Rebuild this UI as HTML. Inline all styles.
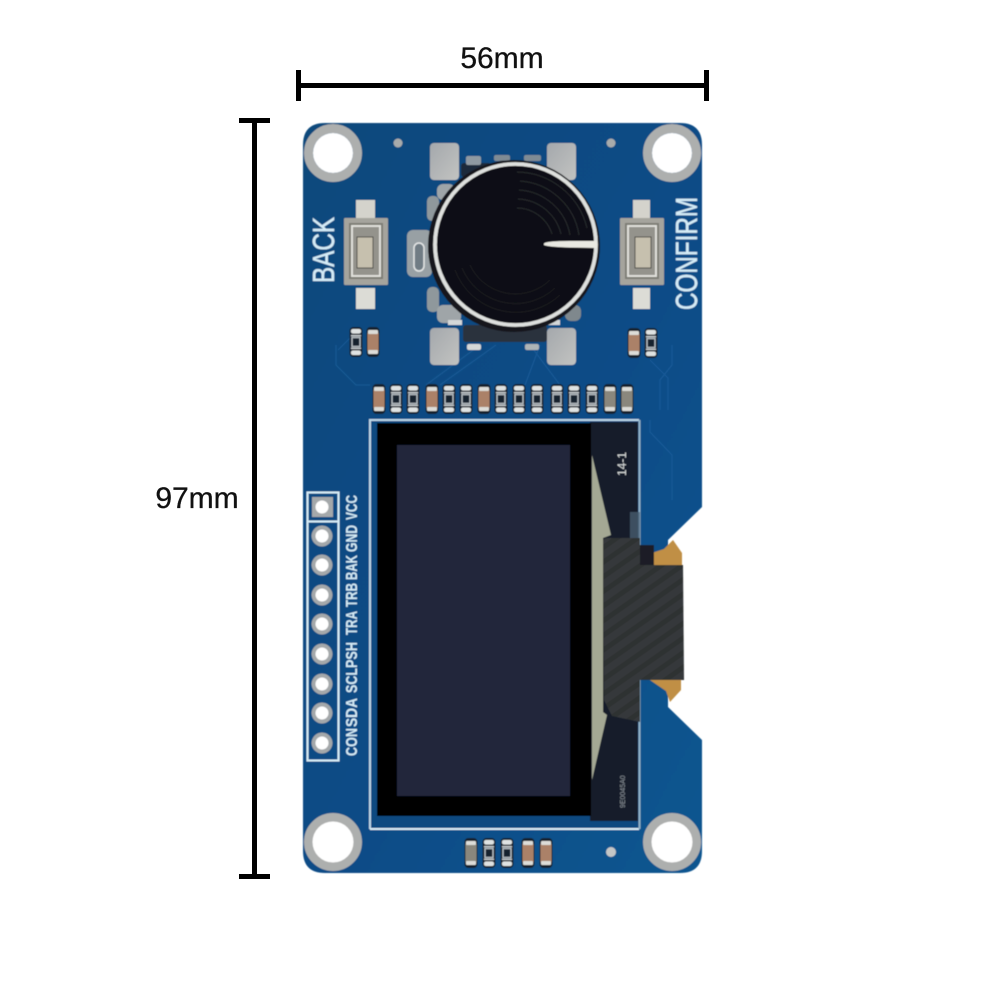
<!DOCTYPE html>
<html><head><meta charset="utf-8"><title>OLED knob module dimensions</title>
<style>html,body{margin:0;padding:0;background:#fff}svg{display:block}text{font-family:"Liberation Sans",sans-serif}</style></head>
<body>
<svg xmlns="http://www.w3.org/2000/svg" width="996" height="996" viewBox="0 0 996 996">
<defs>
<linearGradient id="pcb" x1="0" y1="0" x2="1" y2="1"><stop offset="0" stop-color="#104a7c"/><stop offset=".5" stop-color="#0d4b86"/><stop offset="1" stop-color="#105690"/></linearGradient>
<linearGradient id="pad" x1="0" y1="0" x2="1" y2="1"><stop offset="0" stop-color="#a4a8ac"/><stop offset="1" stop-color="#c2c3c1"/></linearGradient>
<pattern id="carbon" width="12" height="12" patternUnits="userSpaceOnUse" patternTransform="rotate(-35)"><rect width="12" height="12" fill="#36383b"/><rect width="12" height="5" fill="#2e3033"/></pattern>
<filter id="b" x="-5%" y="-5%" width="110%" height="110%"><feGaussianBlur stdDeviation=".45"/></filter>
<g id="res"><rect x="-6.5" y="-15" width="13" height="30" rx="4" fill="#14222f"/><rect x="-5" y="-13" width="10" height="4.5" rx="2" fill="#dfe2e2"/><rect x="-5" y="8.5" width="10" height="4.5" rx="2" fill="#dfe2e2"/><rect x="-4" y="-4.5" width="8" height="9" fill="none" stroke="#b9c0c4" stroke-width="1.4"/><rect x="-5" y="-7" width="10" height="1.4" fill="#c9ced0"/><rect x="-5" y="5.6" width="10" height="1.4" fill="#c9ced0"/></g>
<g id="cap"><rect x="-6.5" y="-15" width="13" height="30" rx="4" fill="#14222f"/><rect x="-5.5" y="-9" width="11" height="18" fill="#ab8168"/><rect x="-5" y="-12" width="10" height="4" rx="1" fill="#dcdcd8"/><rect x="-5" y="8" width="10" height="4" rx="1" fill="#dcdcd8"/></g>
<g id="capg"><rect x="-6.5" y="-15" width="13" height="30" rx="4" fill="#14222f"/><rect x="-5.5" y="-9" width="11" height="18" fill="#8a877d"/><rect x="-5" y="-12" width="10" height="4" rx="1" fill="#dcdcd8"/><rect x="-5" y="8" width="10" height="4" rx="1" fill="#dcdcd8"/></g>
<g id="pin"><circle r="10.5" fill="#a4a8aa"/><circle r="6.5" fill="#fff"/></g>
</defs>

<!-- dimension lines -->
<rect x="296" y="70" width="5" height="31" fill="#000"/>
<rect x="704" y="70" width="5" height="31" fill="#000"/>
<rect x="298" y="83" width="408" height="5" fill="#000"/>
<rect x="239" y="118" width="31" height="5" fill="#000"/>
<rect x="239" y="874" width="31" height="5" fill="#000"/>
<rect x="252" y="120" width="5" height="756" fill="#000"/>
<text x="502" y="68" font-size="30" text-anchor="middle" fill="#111" stroke="#111" stroke-width=".3">56mm</text>
<text x="197" y="508" font-size="30" text-anchor="middle" fill="#111" stroke="#111" stroke-width=".3">97mm</text>

<g filter="url(#b)">
<!-- PCB -->
<path d="M325 123H680Q702 123 702 145V507L668 540V707L702 740V851Q702 873 680 873H325Q303 873 303 851V145Q303 123 325 123Z" fill="url(#pcb)"/>

<!-- traces -->
<g fill="none" stroke="#1c5f9c" stroke-width="1.2" opacity=".7">
<path d="M336 345V365L356 385H370"/><path d="M338 350L350 338"/>
<path d="M672 345V365L660 380V410"/><path d="M650 420V432L672 455V500"/>
<path d="M426 385L480 345"/><path d="M440 385L496 345"/>
<path d="M525 385L540 345"/><path d="M560 385L530 345"/>
<path d="M650 360L668 378V410"/>
</g>

<!-- mounting holes -->
<g fill="none" stroke="#adafae" stroke-width="9">
<circle cx="333" cy="153" r="24.5"/><circle cx="672" cy="153" r="24.5"/>
<circle cx="333" cy="842" r="24.5"/><circle cx="672" cy="842" r="24.5"/>
</g>
<g fill="#fff">
<circle cx="333" cy="153" r="20"/><circle cx="672" cy="153" r="20"/>
<circle cx="333" cy="842" r="20.5"/><circle cx="672" cy="842" r="20.5"/>
</g>
<circle cx="398" cy="143" r="4.5" fill="#a8abab"/><circle cx="611" cy="143" r="4.5" fill="#a8abab"/><circle cx="611" cy="852" r="5" fill="#c4c6c6"/>

<!-- encoder pads -->
<g fill="url(#pad)">
<rect x="430" y="143" width="29" height="37" rx="4"/>
<rect x="547" y="143" width="29" height="37" rx="4"/>
<rect x="430" y="328" width="29" height="37" rx="4"/>
<rect x="547" y="328" width="29" height="37" rx="4"/>
</g>
<rect x="407" y="230" width="25" height="47" rx="6" fill="#98a0a4"/>
<rect x="414" y="243" width="10" height="28" rx="5" fill="#6f7c84" stroke="#e4e6e6" stroke-width="1.5"/>
<rect x="427" y="196" width="12" height="25" rx="5" fill="#8f989c"/>
<rect x="437" y="184" width="18" height="16" rx="6" fill="#9fa5a8"/>
<rect x="427" y="287" width="12" height="25" rx="5" fill="#8f989c"/>
<rect x="437" y="305" width="24" height="18" rx="6" fill="#9fa5a8"/>
<rect x="565" y="305" width="16" height="16" rx="6" fill="#7f888d"/>
<rect x="463" y="325" width="84" height="17" rx="3" fill="#29323d"/>
<rect x="467" y="344" width="14" height="6" rx="2" fill="#d5d8d8"/><rect x="525" y="344" width="14" height="6" rx="2" fill="#aeb4b6"/>
<rect x="461" y="163" width="30" height="14" rx="3" fill="#1e2b3a"/>
<rect x="466" y="156" width="15" height="9" rx="2" fill="#8f9aa2"/><rect x="494" y="155" width="16" height="6" rx="2" fill="#7f8b94"/><rect x="524" y="155" width="17" height="6" rx="2" fill="#7f8b94"/>
<rect x="448" y="320" width="14" height="5" fill="#d5d8d8"/><rect x="548" y="320" width="12" height="5" fill="#d5d8d8"/>

<!-- knob -->
<circle cx="514" cy="246" r="86" fill="#15181d"/>
<circle cx="515.5" cy="244.5" r="79" fill="#0f1012"/>
<g fill="none" stroke="#3e4144" stroke-width="1" opacity=".55">
<path d="M520 181A64 64 0 0 1 579 235"/>
<path d="M519 190A55 55 0 0 1 570 235"/>
<path d="M518 199A46 46 0 0 1 561 234"/>
<path d="M517 208A37 37 0 0 1 552 234"/>
<path d="M517 172A73 73 0 0 1 587 228"/>
</g>
<g fill="none" stroke="#212326" stroke-width="1" opacity=".7">
<path d="M455 270A65 65 0 0 0 560 295"/><path d="M462 268A58 58 0 0 0 555 288"/><path d="M470 265A50 50 0 0 0 550 280"/>
</g>
<circle cx="515.5" cy="244.5" r="80.5" fill="none" stroke="#dee0de" stroke-width="3.8"/>
<path d="M544 243.5Q546 241 570 241L597 241V248L570 247.5Q548 247 544 245Z" fill="#e9e9e2"/>

<!-- buttons -->
<g>
<rect x="356" y="200" width="19" height="18" fill="#d4d3cc"/>
<rect x="356" y="288" width="19" height="21" fill="#dcdcd6"/>
<rect x="344" y="218" width="44" height="67" rx="1" fill="#a5a49d"/>
<rect x="349" y="223" width="34" height="56" fill="#7d7c75"/>
<rect x="352" y="226" width="28" height="50" fill="#94938c" stroke="#e0e0da" stroke-width="2"/>
<rect x="357" y="237" width="16" height="31" fill="#c6c0ae" stroke="#4a4a45" stroke-width="1"/>
</g>
<g>
<rect x="633" y="200" width="17" height="18" fill="#d4d3cc"/>
<rect x="633" y="288" width="17" height="21" fill="#dcdcd6"/>
<rect x="620" y="218" width="44" height="67" rx="1" fill="#a5a49d"/>
<rect x="625" y="223" width="34" height="56" fill="#7d7c75"/>
<rect x="628" y="226" width="28" height="50" fill="#94938c" stroke="#e0e0da" stroke-width="2"/>
<rect x="635" y="237" width="16" height="31" fill="#c6c0ae" stroke="#4a4a45" stroke-width="1"/>
</g>
<text transform="translate(334 283) rotate(-90)" font-size="31" fill="#d5ecf7" stroke="#d5ecf7" stroke-width=".4" textLength="66" lengthAdjust="spacingAndGlyphs">BACK</text>
<text transform="translate(697 310) rotate(-90)" font-size="31" fill="#d5ecf7" stroke="#d5ecf7" stroke-width=".4" textLength="113" lengthAdjust="spacingAndGlyphs">CONFIRM</text>

<!-- small parts near buttons -->
<use href="#res" x="356" y="342"/><use href="#cap" x="373" y="342"/>
<use href="#cap" x="634" y="343"/><use href="#res" x="651" y="343"/>

<!-- resistor row -->
<use href="#cap" x="379" y="399"/><use href="#res" x="396" y="399"/><use href="#res" x="413" y="399"/>
<use href="#cap" x="432" y="399"/><use href="#res" x="449" y="399"/><use href="#res" x="466" y="399"/>
<use href="#cap" x="484" y="399"/><use href="#res" x="501" y="399"/><use href="#res" x="519" y="399"/>
<use href="#res" x="537" y="399"/><use href="#res" x="557" y="399"/><use href="#res" x="574" y="399"/>
<use href="#res" x="592" y="399"/><use href="#capg" x="610" y="399"/><use href="#capg" x="627" y="399"/>

<!-- display -->
<rect x="370" y="420" width="270" height="409" fill="#0e4a80"/>
<path d="M370 829V420H639" fill="none" stroke="#bcd6e6" stroke-width="2"/>
<path d="M370 829H639" fill="none" stroke="#d8ecf6" stroke-width="2"/>
<path d="M639.5 420V829" fill="none" stroke="#8fb0c6" stroke-width="2"/>
<rect x="590" y="422" width="48" height="399" fill="#171e2b"/>
<rect x="377" y="423" width="214" height="393" fill="#000"/>
<rect x="397" y="445" width="173" height="351" fill="#21263b"/>
<path d="M592 455L611 535L603 538V712L607 715L592 780Z" fill="#a4a894"/>
<text transform="translate(626 476) rotate(-90)" font-size="12" fill="#d8dcdc">14-1</text>
<text transform="translate(625 808) rotate(-90)" font-size="7" fill="#8b929a">9E0045A0</text>

<!-- flex connector -->
<path d="M652 553L664 549L673 540L682 553V566H650Z" fill="#c08f44"/>
<path d="M650 680H681V690L670 702L666 691Z" fill="#c08f44"/>
<rect x="630" y="512" width="10" height="40" fill="#4c6173" opacity=".75"/>
<rect x="632" y="545" width="22" height="22" fill="#1a1f25"/>
<path d="M603 541Q603 538 607 538H640V565H683L684 680H640V722L612 716L604 700Z" fill="url(#carbon)"/>

<!-- header -->
<rect x="307.5" y="492.5" width="31" height="268" fill="none" stroke="#d5ecf7" stroke-width="2"/>
<path d="M307.5 521.5H338.5" stroke="#d5ecf7" stroke-width="2"/>
<rect x="312" y="497" width="21" height="20" fill="#a4a8aa"/><circle cx="322" cy="507" r="6.5" fill="#fff"/>
<use href="#pin" x="322" y="536"/><use href="#pin" x="322" y="565"/><use href="#pin" x="322" y="595"/><use href="#pin" x="322" y="624"/>
<use href="#pin" x="322" y="654"/><use href="#pin" x="322" y="684"/><use href="#pin" x="322" y="713"/><use href="#pin" x="322" y="743"/>
<g font-size="16" font-weight="bold" fill="#d5ecf7">
<text transform="translate(357 756) rotate(-90)" textLength="28" lengthAdjust="spacingAndGlyphs">CON</text>
<text transform="translate(357 727) rotate(-90)" textLength="29" lengthAdjust="spacingAndGlyphs">SDA</text>
<text transform="translate(357 693) rotate(-90)" textLength="25" lengthAdjust="spacingAndGlyphs">SCL</text>
<text transform="translate(357 668) rotate(-90)" textLength="26" lengthAdjust="spacingAndGlyphs">PSH</text>
<text transform="translate(357 635) rotate(-90)" textLength="24" lengthAdjust="spacingAndGlyphs">TRA</text>
<text transform="translate(357 607) rotate(-90)" textLength="24" lengthAdjust="spacingAndGlyphs">TRB</text>
<text transform="translate(357 580) rotate(-90)" textLength="25" lengthAdjust="spacingAndGlyphs">BAK</text>
<text transform="translate(357 552) rotate(-90)" textLength="27" lengthAdjust="spacingAndGlyphs">GND</text>
<text transform="translate(357 520) rotate(-90)" textLength="25" lengthAdjust="spacingAndGlyphs">VCC</text>
</g>

<!-- bottom parts -->
<use href="#capg" x="471" y="853"/><use href="#res" x="489" y="853"/><use href="#res" x="507" y="853"/><use href="#cap" x="528" y="853"/><use href="#cap" x="546" y="853"/>
</g>
</svg>
</body></html>
